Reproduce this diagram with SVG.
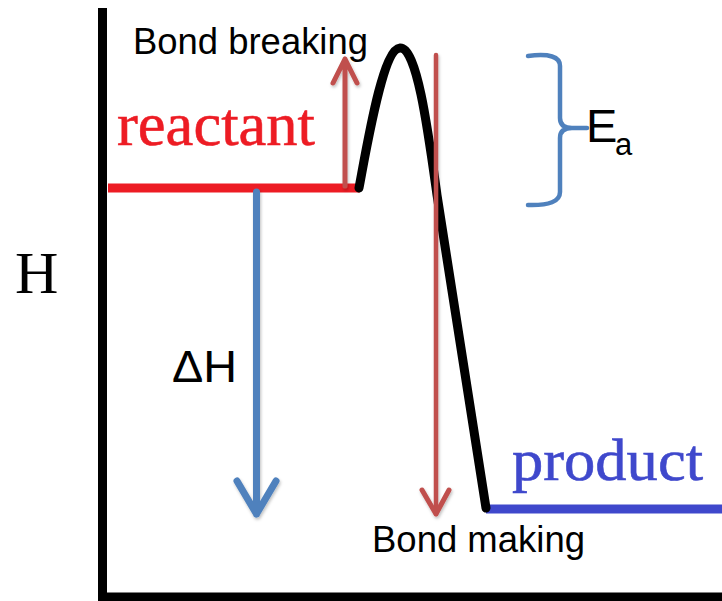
<svg xmlns="http://www.w3.org/2000/svg" width="722" height="601" viewBox="0 0 722 601">
  <style>
    .sans { font-family: "Liberation Sans", Arial, sans-serif; fill: #000; }
    .serif { font-family: "Liberation Serif", "Times New Roman", serif; }
    .axis { stroke: #000; stroke-width: 9; fill: none; }
    .redArrow { stroke: #C0504D; fill: none; stroke-linecap: round; stroke-linejoin: round; }
    .blueArrow { stroke: #4F81BD; fill: none; stroke-linecap: round; stroke-linejoin: round; }
  </style>
  <defs>
    <filter id="sh" x="-50%" y="-10%" width="200%" height="120%">
      <feDropShadow dx="1" dy="2" stdDeviation="1.5" flood-color="#000" flood-opacity="0.25"/>
    </filter>
  </defs>
  <rect width="722" height="601" fill="#fff"/>

  <g id="axes">
    <line class="axis" x1="102.5" y1="8" x2="102.5" y2="601"/>
    <line class="axis" x1="98" y1="597" x2="722" y2="597"/>
    <text class="serif" x="15" y="293" font-size="60" fill="#000">H</text>
  </g>

  <g id="reactant">
    <line x1="108" y1="188" x2="360" y2="188" stroke="#ED1C24" stroke-width="9"/>
    <text class="serif" x="117" y="145" font-size="61" fill="#ED1C24" stroke="#ED1C24" stroke-width="0.6" textLength="198" lengthAdjust="spacingAndGlyphs">reactant</text>
  </g>

  <g id="product">
    <line x1="486" y1="509" x2="722" y2="509" stroke="#3F48CC" stroke-width="9"/>
    <text class="serif" x="512" y="480" font-size="60" fill="#3F48CC" stroke="#3F48CC" stroke-width="0.6" textLength="191" lengthAdjust="spacingAndGlyphs">product</text>
  </g>

  <g id="curve">
    <path d="M359,188 C368,140 383,49 400,48 C417,47 428,130 437,195 L486,508" stroke="#000" stroke-width="9" fill="none" stroke-linecap="round" stroke-linejoin="round"/>
  </g>

  <g id="connectors">
    <g id="bond-breaking-arrow" filter="url(#sh)">
      <path class="redArrow" stroke-width="5" d="M345,186 L345,59 M333,83 L345,59 L357,83"/>
    </g>
    <g id="bond-making-arrow" filter="url(#sh)">
      <path class="redArrow" stroke-width="4.5" d="M436,55 L436,514"/>
      <path class="redArrow" stroke-width="5" d="M422,490 L436,514 L449,490"/>
    </g>
    <g id="dH-arrow" filter="url(#sh)">
      <path class="blueArrow" stroke-width="7" d="M256.5,192 L256.5,514 M237,481 L256.5,514 L276,481"/>
    </g>
    <g id="ea-brace">
      <path class="blueArrow" stroke-width="4.5" d="M528,56 Q560,52 560,66 L560,118 Q560,128 572,128 L587,128 M572,128 Q560,128 560,138 L560,192 Q560,206 528,205"/>
    </g>
  </g>

  <g id="labels">
    <text class="sans" x="133" y="54" font-size="36" textLength="235" lengthAdjust="spacingAndGlyphs">Bond breaking</text>
    <text class="sans" x="372" y="552" font-size="36" textLength="213" lengthAdjust="spacingAndGlyphs">Bond making</text>
    <text class="sans" x="172" y="382" font-size="45" textLength="65" lengthAdjust="spacingAndGlyphs">ΔH</text>
    <text class="sans" x="586" y="142" font-size="47">E<tspan font-size="31" x="615" y="155">a</tspan></text>
  </g>
</svg>
